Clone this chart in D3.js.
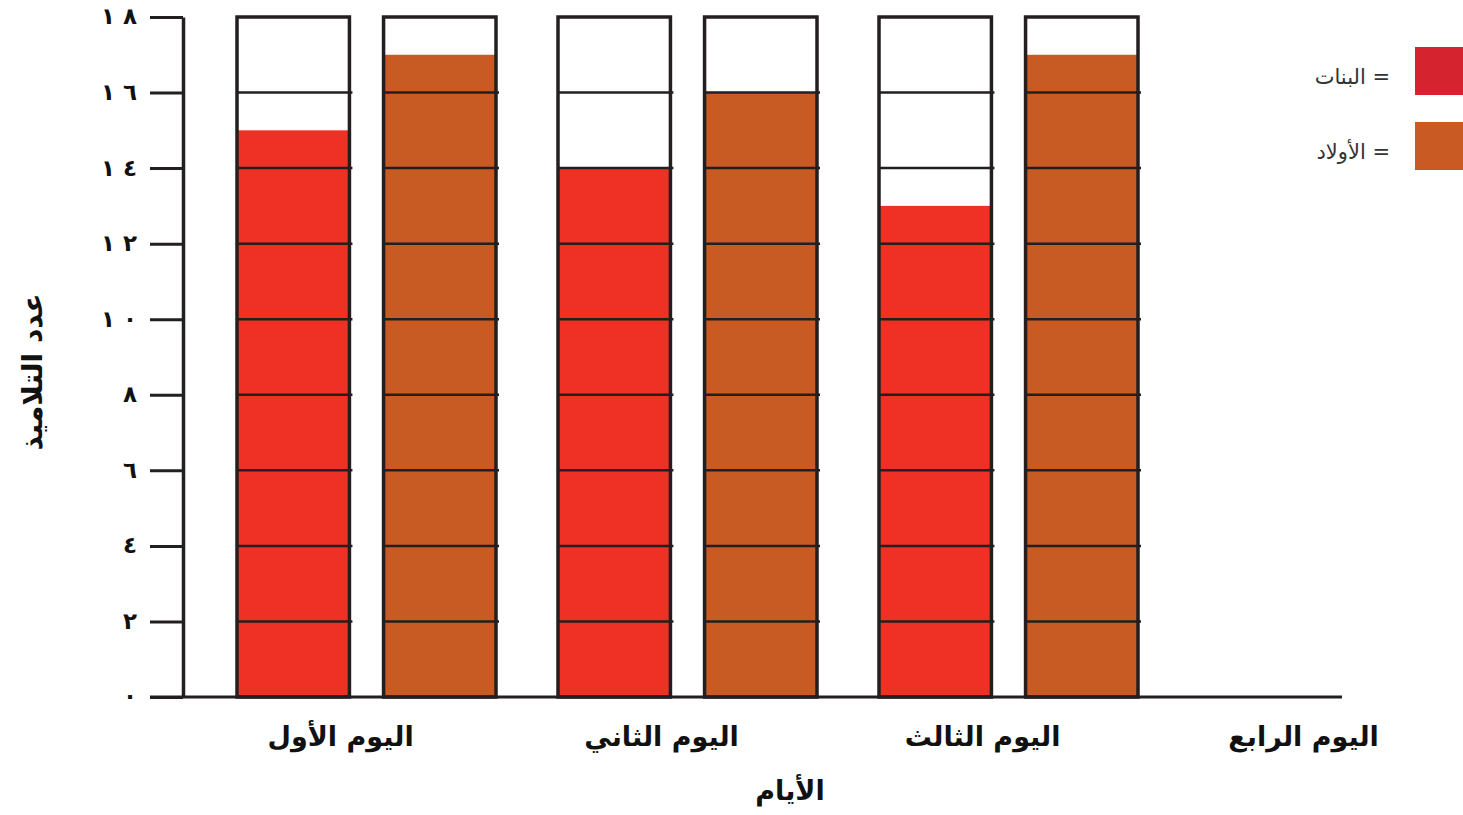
<!DOCTYPE html>
<html>
<head>
<meta charset="utf-8">
<script src="https://cdn.jsdelivr.net/npm/d3@7"></script>
<style>
  html, body { margin: 0; padding: 0; background: #fff; }
  svg { display: block; }
  text { font-family: "DejaVu Sans", sans-serif; }
</style>
</head>
<body>
<svg id="chart" width="1463" height="815"></svg>
<script>
// ---- data ----
const days = ["اليوم الأول", "اليوم الثاني", "اليوم الثالث", "اليوم الرابع"];
const girls = [15, 14, 13, null];
const boys = [17, 16, 17, null];
const seriesKeys = ["girls", "boys"];
const seriesNames = ["البنات", "الأولاد"];
const yTicks = [0, 2, 4, 6, 8, 10, 12, 14, 16, 18];
const yTitle = "عدد التلاميذ";
const xTitle = "الأيام";

// ---- styles ----
const barColors = { girls: "#ee3124", boys: "#c85a23" };
const legendColors = { girls: "#d5232f", boys: "#c95a24" };
const ink = "#231f20";

const svg = d3.select("#chart");

const y = d3.scaleLinear().domain([0, 18]).range([697, 17]);

const step = 321;
const pIn = 62 / step;
const x = d3.scaleBand().domain(days)
  .range([237, 237 + step * (4 - pIn)])
  .paddingInner(pIn).paddingOuter(0);

const xSub = d3.scaleBand().domain(seriesKeys)
  .range([0, x.bandwidth()]).paddingInner(34 / 146);

// Arabic-Indic digits, separated by a spaced gap kept in LTR order
const toIndic = n => String(n).split("")
  .map(d => "٠١٢٣٤٥٦٧٨٩"[+d]).join("\u200E \u200E");

// columns
const columns = [];
days.forEach((d, i) => {
  if (girls[i] != null) columns.push({ day: d, key: "girls", value: girls[i] });
  if (boys[i] != null) columns.push({ day: d, key: "boys", value: boys[i] });
});

const colG = svg.append("g").selectAll("g").data(columns).join("g")
  .attr("transform", d => `translate(${x(d.day) + xSub(d.key)},0)`);

colG.append("rect")
  .attr("x", 0).attr("y", y(18))
  .attr("width", xSub.bandwidth()).attr("height", y(0) - y(18))
  .attr("fill", "#fff");

colG.append("rect")
  .attr("x", 0).attr("y", d => y(d.value))
  .attr("width", xSub.bandwidth()).attr("height", d => y(0) - y(d.value))
  .attr("fill", d => barColors[d.key]);

colG.selectAll("line.grid").data(yTicks.filter(t => t > 0 && t < 18)).join("line")
  .attr("class", "grid")
  .attr("x1", 0).attr("x2", xSub.bandwidth() + 3)
  .attr("y1", t => y(t)).attr("y2", t => y(t))
  .attr("stroke", ink).attr("stroke-width", 2.5);

colG.append("rect")
  .attr("x", 0).attr("y", y(18))
  .attr("width", xSub.bandwidth()).attr("height", y(0) - y(18))
  .attr("fill", "none").attr("stroke", ink).attr("stroke-width", 3.5);

// y axis
const yAxis = d3.axisLeft(y).tickValues(yTicks).tickSize(33).tickSizeOuter(0)
  .tickPadding(13).tickFormat(toIndic);
const yg = svg.append("g").attr("transform", "translate(183,0)").call(yAxis);
yg.select(".domain").attr("stroke", ink).attr("stroke-width", 3.5);
yg.selectAll(".tick line").attr("stroke", ink).attr("stroke-width", 3);
yg.selectAll(".tick text")
  .attr("font-size", 23).attr("font-weight", "bold").attr("fill", "#111")
  .attr("dy", "0.3em");

// x axis baseline
svg.append("line")
  .attr("x1", 150).attr("x2", 1342)
  .attr("y1", y(0)).attr("y2", y(0))
  .attr("stroke", ink).attr("stroke-width", 3);

// x category labels
svg.append("g").selectAll("text").data(days).join("text")
  .attr("x", d => x(d) + x.bandwidth() * 0.4)
  .attr("y", 746)
  .attr("text-anchor", "middle")
  .attr("font-size", 27).attr("font-weight", "bold").attr("fill", "#111")
  .text(d => d);

// x title
svg.append("text")
  .attr("x", 790).attr("y", 800)
  .attr("text-anchor", "middle")
  .attr("font-size", 27).attr("font-weight", "bold").attr("fill", "#111")
  .text(xTitle);

// y title
svg.append("text")
  .attr("transform", "translate(42,372) rotate(-90)")
  .attr("text-anchor", "middle")
  .attr("font-size", 28).attr("font-weight", "bold").attr("fill", "#111")
  .text(yTitle);

// legend
const leg = svg.append("g").selectAll("g").data(seriesKeys).join("g")
  .attr("transform", (d, i) => `translate(0,${47 + i * 75})`);
leg.append("rect")
  .attr("x", 1415).attr("y", 0).attr("width", 48).attr("height", 48)
  .attr("fill", d => legendColors[d]);
leg.append("text")
  .attr("x", 1390).attr("y", 37)
  .attr("text-anchor", "end")
  .attr("font-size", 21).attr("fill", "#333")
  .text((d, i) => seriesNames[i] + " =");
</script>
</body>
</html>
